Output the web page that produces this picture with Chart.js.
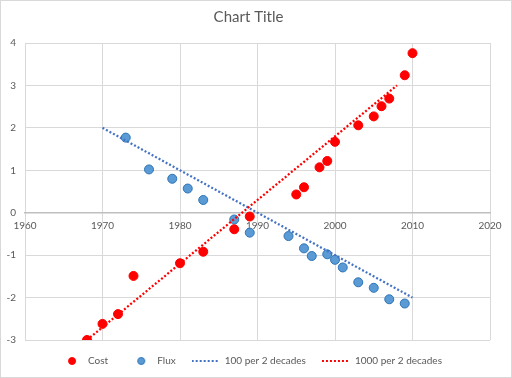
<!DOCTYPE html>
<html>
<head>
<meta charset="utf-8">
<script src="https://cdn.jsdelivr.net/npm/chart.js@4/dist/chart.umd.min.js"></script>
<style>
  html, body { margin: 0; padding: 0; background: #fff; }
  #wrap { width: 512px; height: 378px; position: relative; }
</style>
</head>
<body>
<div id="wrap"><canvas id="chart"></canvas></div>
<script>
  // data (log10 values by year)
  const costYears = [1968, 1970, 1972, 1974, 1980, 1983, 1987, 1989, 1995, 1996, 1998, 1999, 2000, 2003, 2005, 2006, 2007, 2009, 2010];
  const costValues = [-3.0, -2.62, -2.39, -1.49, -1.19, -0.92, -0.39, -0.09, 0.43, 0.6, 1.07, 1.22, 1.67, 2.06, 2.27, 2.51, 2.69, 3.24, 3.76];

  const fluxYears = [1973, 1976, 1979, 1981, 1983, 1987, 1989, 1994, 1996, 1997, 1999, 2000, 2001, 2003, 2005, 2007, 2009];
  const fluxValues = [1.77, 1.02, 0.8, 0.57, 0.3, -0.16, -0.47, -0.55, -0.84, -1.02, -0.98, -1.11, -1.29, -1.64, -1.77, -2.04, -2.14];

  const trend100Years = [1970, 2010];
  const trend100Values = [2, -2];
  const trend1000Years = [1968, 2008];
  const trend1000Values = [-3, 3];

  const seriesLabels = ['Cost', 'Flux', '100 per 2 decades', '1000 per 2 decades'];

  const toPoints = (xs, ys) => xs.map((x, i) => ({ x: x, y: ys[i] }));

  const textColor = '#595959';
  const gridColor = '#d9d9d9';
  const fontFamily = 'Lato, "Open Sans", sans-serif';

  // legend markers as small canvases so the dots stay round and the lines dotted
  function legendDot(fill, stroke) {
    const c = document.createElement('canvas');
    c.width = 28;
    c.height = 10;
    const g = c.getContext('2d');
    g.beginPath();
    g.arc(17, 5, 3.5, 0, Math.PI * 2);
    g.fillStyle = fill;
    g.fill();
    g.strokeStyle = stroke;
    g.lineWidth = 1;
    g.stroke();
    return c;
  }

  function legendDots(color) {
    const c = document.createElement('canvas');
    c.width = 28;
    c.height = 10;
    const g = c.getContext('2d');
    g.fillStyle = color;
    for (let x = 0; x < 28; x += 4) {
      g.fillRect(x, 4, 2, 2);
    }
    return c;
  }

  // white background and thin frame like the Excel chart area
  const framePlugin = {
    id: 'frame',
    beforeDraw(chart) {
      const ctx = chart.ctx;
      ctx.save();
      ctx.fillStyle = '#fff';
      ctx.fillRect(0, 0, chart.width, chart.height);
      ctx.strokeStyle = '#d9d9d9';
      ctx.lineWidth = 1;
      ctx.strokeRect(0.5, 0.5, chart.width - 1, chart.height - 1);
      ctx.restore();
    }
  };

  const ctx = document.getElementById('chart');
  const chart = new Chart(ctx, {
    type: 'scatter',
    data: {
      datasets: [
        {
          label: seriesLabels[0],
          data: toPoints(costYears, costValues),
          backgroundColor: '#ff0000',
          borderColor: '#ff0000',
          borderWidth: 1,
          pointRadius: 4.5,
          legendIcon: legendDot('#ff0000', '#ff0000'),
          order: 2,
        },
        {
          label: seriesLabels[1],
          data: toPoints(fluxYears, fluxValues),
          backgroundColor: '#5b9bd5',
          borderColor: '#2e75b6',
          borderWidth: 1,
          pointRadius: 4.5,
          legendIcon: legendDot('#5b9bd5', '#2e75b6'),
          order: 3,
        },
        {
          label: seriesLabels[2],
          data: toPoints(trend100Years, trend100Values),
          showLine: true,
          borderColor: '#4472c4',
          backgroundColor: '#4472c4',
          borderWidth: 2.25,
          borderDash: [2, 2],
          pointRadius: 0,
          legendIcon: legendDots('#4472c4'),
          order: 1,
        },
        {
          label: seriesLabels[3],
          data: toPoints(trend1000Years, trend1000Values),
          showLine: true,
          borderColor: '#ff0000',
          backgroundColor: '#ff0000',
          borderWidth: 2.25,
          borderDash: [2, 2],
          pointRadius: 0,
          legendIcon: legendDots('#ff0000'),
          order: 0,
        },
      ]
    },
    options: {
      responsive: true,
      maintainAspectRatio: false,
      animation: false,
      layout: {
        padding: { left: 7, right: 22, top: 0, bottom: 2 }
      },
      plugins: {
        title: {
          display: true,
          text: 'Chart Title',
          color: textColor,
          font: { family: fontFamily, size: 15, weight: 'normal' },
          padding: { top: 8, bottom: 17 },
        },
        legend: {
          position: 'bottom',
          labels: {
            color: textColor,
            font: { family: fontFamily, size: 10 },
            usePointStyle: true,
            pointStyleWidth: 28,
            boxHeight: 5,
            padding: 16,
            generateLabels(chart) {
              const items = Chart.defaults.plugins.legend.labels.generateLabels(chart);
              items.forEach((item) => {
                item.pointStyle = chart.data.datasets[item.datasetIndex].legendIcon;
              });
              return items.sort((a, b) => a.datasetIndex - b.datasetIndex);
            }
          }
        },
        tooltip: { enabled: false }
      },
      scales: {
        x: {
          type: 'linear',
          min: 1960,
          max: 2020,
          position: { y: 0 },
          ticks: {
            stepSize: 10,
            color: textColor,
            font: { family: fontFamily, size: 10 },
            padding: 7,
            callback: (v) => String(v),
          },
          grid: { color: gridColor, drawTicks: false },
          border: { display: true, color: '#bfbfbf', width: 1.5 },
        },
        y: {
          min: -3,
          max: 4,
          // fixed axis width so the plot starts where Excel's does
          afterFit: (scale) => {
            scale.width = 18;
          },
          ticks: {
            stepSize: 1,
            color: textColor,
            font: { family: fontFamily, size: 10 },
            padding: 9,
          },
          grid: { color: gridColor, drawTicks: false },
          border: { display: false },
        }
      }
    },
    plugins: [framePlugin]
  });
</script>
</body>
</html>
